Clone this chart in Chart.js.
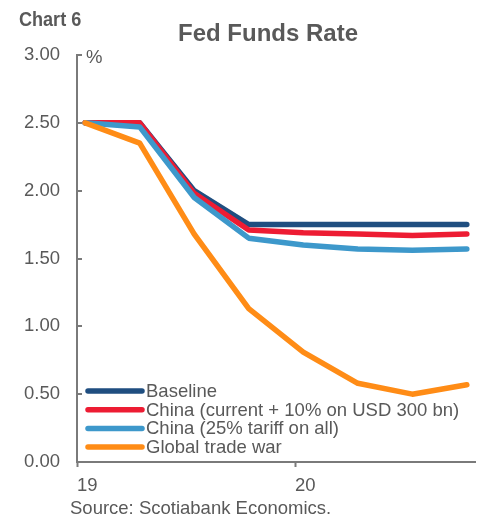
<!DOCTYPE html>
<html>
<head>
<meta charset="utf-8">
<script src="https://cdn.jsdelivr.net/npm/chart.js@4"></script>
<style>
  html,body{margin:0;padding:0;background:#fff;}
  #wrap{position:relative;width:484px;height:519px;font-family:"Liberation Sans",Arial,sans-serif;color:#595959;}
  #c{position:absolute;left:0;top:0;}
  .t{position:absolute;white-space:nowrap;line-height:1;}
</style>
</head>
<body>
<div id="wrap">
  <canvas id="c" width="484" height="519"></canvas>
  <div class="t" style="left:19px;top:8px;font-size:21px;font-weight:bold;transform:scaleX(0.86);transform-origin:0 0;">Chart 6</div>
  <div class="t" style="left:178px;top:21px;font-size:24px;font-weight:bold;">Fed Funds Rate</div>
  <div class="t" style="left:86px;top:48px;font-size:18.5px;">%</div>
  <div class="t" style="left:70px;top:499px;font-size:18.5px;">Source: Scotiabank Economics.</div>
</div>
<script>
const quarters = ['2019Q1','2019Q2','2019Q3','2019Q4','2020Q1','2020Q2','2020Q3','2020Q4'];
const yearLabels = ['19','20'];
const yTicks = [0, 0.5, 1, 1.5, 2, 2.5, 3];
const baseline = [2.50, 2.50, 2.00, 1.75, 1.75, 1.75, 1.75, 1.75];
const chinaCurrent = [2.50, 2.50, 1.98, 1.71, 1.69, 1.68, 1.67, 1.68];
const china25 = [2.50, 2.47, 1.95, 1.65, 1.60, 1.57, 1.56, 1.57];
const globalWar = [2.50, 2.35, 1.68, 1.13, 0.81, 0.58, 0.50, 0.57];

const seriesNames = ['Baseline','China (current + 10% on USD 300 bn)','China (25% tariff on all)','Global trade war'];
const seriesColors = ['#1F4E80','#ED1C33','#3D98CB','#FF8C16'];
const seriesValues = [baseline, chinaCurrent, china25, globalWar];

const FONT = '"Liberation Sans", Arial, sans-serif';
const GRAY = '#595959';
const AXIS = '#7a7a7a';

function pts(vals){ return vals.map((v,i)=>({x: i + 0.15, y: v})); }

const datasets = seriesValues.map((vals, k) => ({
  label: seriesNames[k],
  data: pts(vals),
  borderColor: seriesColors[k],
  backgroundColor: seriesColors[k],
  borderWidth: 5.5,
  pointRadius: 0,
  tension: 0,
  borderCapStyle: 'round',
  borderJoinStyle: 'round',
  order: 4 - k,
  fill: false
}));

const innerTicks = {
  id: 'innerTicks',
  afterDraw(chart){
    const ctx = chart.ctx, y = chart.scales.y, left = chart.chartArea.left;
    ctx.save();
    ctx.strokeStyle = AXIS; ctx.lineWidth = 2;
    y.ticks.forEach(t => {
      const py = Math.round(y.getPixelForValue(t.value));
      ctx.beginPath(); ctx.moveTo(left - 1, py); ctx.lineTo(left + 5, py); ctx.stroke();
    });
    ctx.restore();
  }
};

const insideLegend = {
  id: 'insideLegend',
  afterDraw(chart){
    const ctx = chart.ctx;
    const x0 = 88, x1 = 142, tx = 146, y0 = 391, dy = 18.7;
    ctx.save();
    ctx.font = '18.5px ' + FONT;
    ctx.textBaseline = 'middle';
    chart.data.datasets.forEach((ds, i) => {
      const yy = y0 + i * dy;
      ctx.strokeStyle = ds.borderColor; ctx.lineWidth = 5.5; ctx.lineCap = 'round';
      ctx.beginPath(); ctx.moveTo(x0, yy); ctx.lineTo(x1, yy); ctx.stroke();
      ctx.fillStyle = GRAY;
      ctx.fillText(ds.label, tx, yy + 1);
    });
    ctx.restore();
  }
};

new Chart(document.getElementById('c'), {
  type: 'line',
  data: { datasets },
  options: {
    responsive: false,
    animation: false,
    devicePixelRatio: 1,
    layout: { padding: { left: 0, right: 9, top: 55, bottom: 27 } },
    plugins: { legend: { display: false }, tooltip: { enabled: false }, title: { display: false } },
    scales: {
      x: {
        type: 'linear', min: 0, max: 7.3,
        afterBuildTicks(s){ s.ticks = [{value: 0}, {value: 4}]; },
        afterFit(s){ s.height = 30; },
        grid: { drawOnChartArea: false, drawTicks: true, tickLength: 5, tickColor: AXIS, tickWidth: 2 },
        border: { color: AXIS, width: 2 },
        ticks: {
          align: 'start', padding: 8, color: GRAY, maxRotation: 0, autoSkip: false,
          font: { family: FONT, size: 18.5 },
          callback: (v) => v === 0 ? yearLabels[0] : (v === 4 ? yearLabels[1] : '')
        }
      },
      y: {
        min: 0, max: 3,
        afterBuildTicks(s){ s.ticks = yTicks.map(v => ({value: v})); },
        afterFit(s){ s.width = 77; },
        grid: { drawOnChartArea: false, drawTicks: false, tickLength: 0 },
        border: { color: AXIS, width: 2 },
        ticks: {
          padding: 17, color: GRAY,
          font: { family: FONT, size: 18.5 },
          callback: (v) => Number(v).toFixed(2)
        }
      }
    }
  },
  plugins: [innerTicks, insideLegend]
});
</script>
</body>
</html>
